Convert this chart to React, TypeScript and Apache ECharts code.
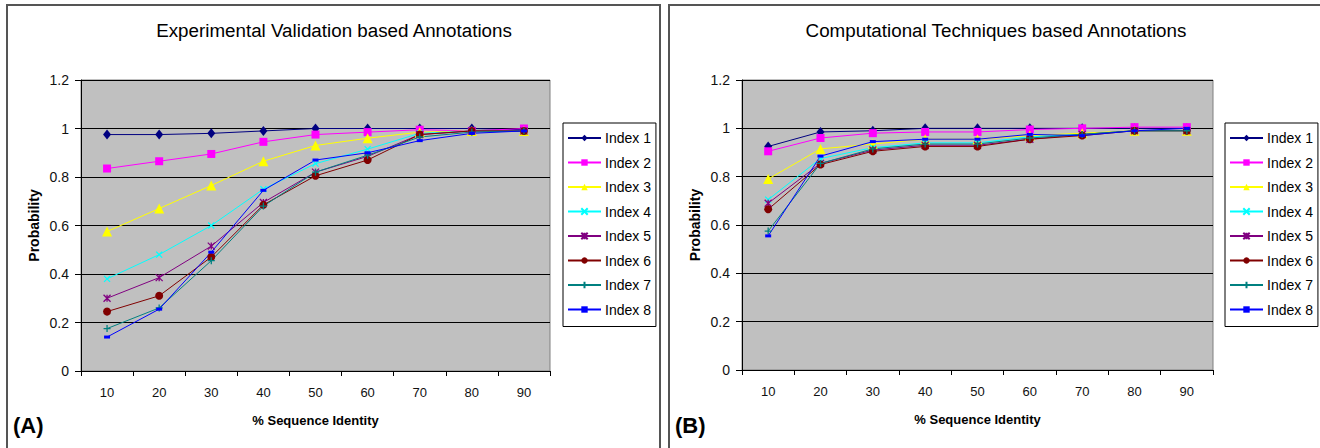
import React, { useEffect, useRef } from "react";
import * as echarts from "echarts";

const categories = ["10", "20", "30", "40", "50", "60", "70", "80", "90"];
const seriesNames = ["Index 1", "Index 2", "Index 3", "Index 4", "Index 5", "Index 6", "Index 7", "Index 8"];

// (A) Experimental Validation based Annotations
const expIndex1 = [0.975, 0.975, 0.98, 0.99, 1.0, 1.0, 1.0, 1.0, 0.995];
const expIndex2 = [0.835, 0.865, 0.895, 0.945, 0.975, 0.985, 0.995, 0.99, 1.0];
const expIndex3 = [0.575, 0.67, 0.765, 0.865, 0.93, 0.96, 0.985, 0.99, 0.99];
const expIndex4 = [0.38, 0.48, 0.6, 0.75, 0.855, 0.915, 0.98, 0.99, 0.99];
const expIndex5 = [0.3, 0.385, 0.515, 0.695, 0.82, 0.885, 0.975, 0.99, 0.99];
const expIndex6 = [0.245, 0.31, 0.47, 0.685, 0.805, 0.87, 0.975, 0.99, 0.99];
const expIndex7 = [0.175, 0.26, 0.455, 0.68, 0.82, 0.89, 0.965, 0.985, 0.99];
const expIndex8 = [0.14, 0.255, 0.49, 0.745, 0.87, 0.9, 0.95, 0.98, 0.99];

// (B) Computational Techniques based Annotations
const compIndex1 = [0.925, 0.985, 0.99, 1.0, 1.0, 1.0, 1.0, 1.0, 1.0];
const compIndex2 = [0.905, 0.96, 0.98, 0.985, 0.985, 0.995, 1.0, 1.005, 1.005];
const compIndex3 = [0.79, 0.915, 0.935, 0.955, 0.955, 0.97, 0.98, 0.99, 0.99];
const compIndex4 = [0.705, 0.875, 0.92, 0.94, 0.94, 0.965, 0.975, 0.99, 0.99];
const compIndex5 = [0.69, 0.855, 0.91, 0.93, 0.93, 0.955, 0.975, 0.99, 0.99];
const compIndex6 = [0.665, 0.85, 0.905, 0.925, 0.925, 0.955, 0.97, 0.99, 0.99];
const compIndex7 = [0.575, 0.855, 0.915, 0.935, 0.935, 0.96, 0.975, 0.99, 0.99];
const compIndex8 = [0.555, 0.885, 0.945, 0.955, 0.955, 0.975, 0.97, 0.99, 1.0];

const expSeries = [expIndex1, expIndex2, expIndex3, expIndex4, expIndex5, expIndex6, expIndex7, expIndex8];
const compSeries = [compIndex1, compIndex2, compIndex3, compIndex4, compIndex5, compIndex6, compIndex7, compIndex8];

const titles = ["Experimental Validation based Annotations", "Computational Techniques based Annotations"];
const panelLetters = ["(A)", "(B)"];

const colors = ["#000080", "#ff00ff", "#ffff00", "#00ffff", "#800080", "#800000", "#008080", "#0000ff"];
const symbols = [
  "diamond",
  "rect",
  "triangle",
  "path://M0,0L10,10M10,0L0,10",
  "path://M0,0L10,10M10,0L0,10M5,0L5,10",
  "circle",
  "path://M5,0L5,10M0,5L10,5",
  "rect",
];
const symbolSizes: any[] = [[8, 10], 8, 10, 6, 7, 8, 7, [6, 3]];
const strokeSymbols = [false, false, false, true, true, false, true, false];

const FONT = "'Liberation Sans', Arial, sans-serif";

export default function App() {
  const ref = useRef<HTMLDivElement>(null);
  useEffect(() => {
    if (!ref.current) return;
    const chart = echarts.init(ref.current, null, { renderer: "svg" });

    const grids = [
      { left: 81, top: 80, width: 469, height: 291 },
      { left: 742, top: 80, width: 471, height: 290 },
    ];
    const legendLefts = [563, 1225];
    const titleCenters = [334, 996];
    const letterLefts = [13, 675];

    const series: any[] = [];
    [expSeries, compSeries].forEach((set, gi) => {
      set.forEach((vals, i) => {
        series.push({
          name: seriesNames[i],
          type: "line",
          xAxisIndex: gi,
          yAxisIndex: gi,
          data: vals,
          symbol: symbols[i],
          symbolSize: symbolSizes[i],
          showAllSymbol: true,
          lineStyle: { color: colors[i], width: 1 },
          itemStyle: strokeSymbols[i]
            ? { color: colors[i], borderColor: colors[i], borderWidth: 1.3 }
            : { color: colors[i] },
          emphasis: { disabled: true },
        });
      });
    });

    const option: any = {
      animation: false,
      backgroundColor: "#ffffff",
      textStyle: { fontFamily: FONT },
      grid: grids.map((g) => ({
        ...g,
        show: true,
        backgroundColor: "#c0c0c0",
        borderColor: "#808080",
        borderWidth: 1,
        containLabel: false,
      })),
      xAxis: grids.map((_, gi) => ({
        type: "category",
        gridIndex: gi,
        data: categories,
        boundaryGap: true,
        name: "% Sequence Identity",
        nameLocation: "middle",
        nameGap: 43,
        nameTextStyle: { fontFamily: FONT, fontSize: 13, fontWeight: "bold", color: "#000" },
        axisLine: { show: true, lineStyle: { color: "#000", width: 1 } },
        axisTick: { show: true, alignWithLabel: false, interval: 0, length: 5, lineStyle: { color: "#000" } },
        axisLabel: { interval: 0, margin: 15, fontSize: 13, color: "#111", fontFamily: FONT },
        splitLine: { show: false },
      })),
      yAxis: grids.map((_, gi) => ({
        type: "value",
        gridIndex: gi,
        min: 0,
        max: 1.2,
        interval: 0.2,
        name: "Probability",
        nameLocation: "middle",
        nameGap: 40,
        nameTextStyle: { fontFamily: FONT, fontSize: 14, fontWeight: "bold", color: "#000" },
        axisLine: { show: true, lineStyle: { color: "#000", width: 1 } },
        axisTick: { show: true, length: 6, lineStyle: { color: "#000" } },
        axisLabel: {
          margin: 12,
          fontSize: 14,
          color: "#111",
          fontFamily: FONT,
          formatter: (v: number) => String(Math.round(v * 10) / 10),
        },
        splitLine: { show: true, lineStyle: { color: "#000", width: 1 } },
      })),
      legend: legendLefts.map((l) => ({
        orient: "vertical",
        left: l,
        top: 123,
        data: seriesNames,
        selectedMode: false,
        itemWidth: 33,
        itemHeight: 8,
        itemGap: 10.5,
        padding: [8, 5, 10, 4],
        borderColor: "#000",
        borderWidth: 1,
        backgroundColor: "#ffffff",
        textStyle: { fontFamily: FONT, fontSize: 14, color: "#000", padding: [0, 0, 0, -1] },
      })),
      graphic: [
        {
          type: "rect",
          silent: true,
          shape: { x: 7, y: 5, width: 653, height: 470 },
          style: { fill: "none", stroke: "#555", lineWidth: 2 },
          z: 100,
        },
        {
          type: "rect",
          silent: true,
          shape: { x: 669, y: 5, width: 700, height: 470 },
          style: { fill: "none", stroke: "#555", lineWidth: 2 },
          z: 100,
        },
        ...titles.map((t, i) => ({
          type: "text",
          x: titleCenters[i],
          y: 30,
          silent: true,
          style: {
            text: t,
            fontFamily: FONT,
            fontSize: 18.8,
            fill: "#000",
            align: "center",
            verticalAlign: "middle",
          },
        })),
        ...panelLetters.map((t, i) => ({
          type: "text",
          x: letterLefts[i],
          y: 425,
          silent: true,
          style: {
            text: t,
            fontFamily: FONT,
            fontSize: 22,
            fontWeight: "bold",
            fill: "#000",
            align: "left",
            verticalAlign: "middle",
          },
        })),
      ],
      series,
    };
    chart.setOption(option);
    return () => chart.dispose();
  }, []);
  return (
    <div
      ref={ref}
      style={{ position: "absolute", left: 0, top: 0, width: 1320, height: 448, background: "#fff" }}
    />
  );
}
